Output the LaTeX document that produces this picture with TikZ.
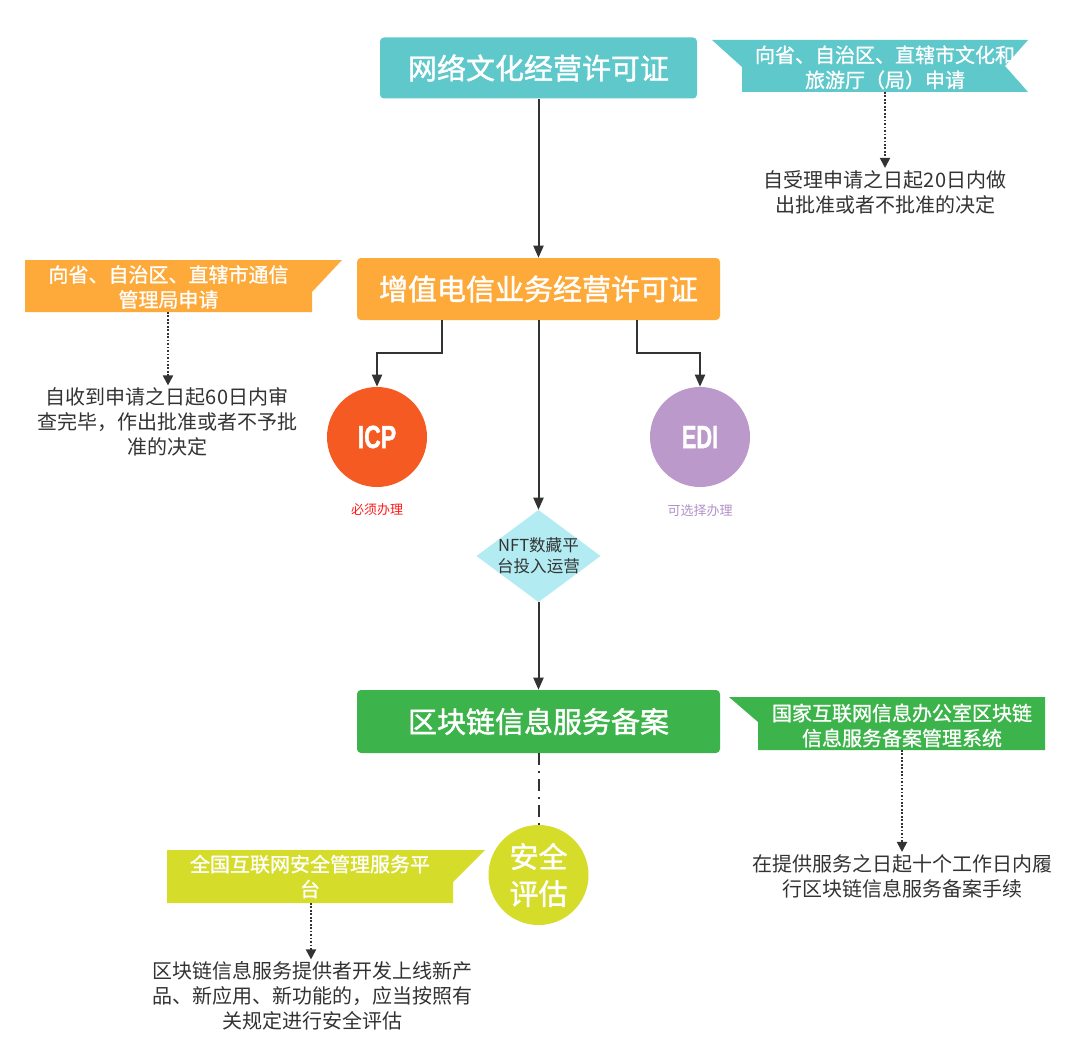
\documentclass[tikz,border=0pt]{standalone}
\usepackage{fontspec}
\usepackage{graphicx}
\setmainfont{Noto Sans CJK SC}
\newfontfamily\cjkmed[FakeBold=1.4]{Noto Sans CJK SC}
\newfontfamily\cjkflag[FakeBold=1.0]{Noto Sans CJK SC}
\newfontfamily\latf[FakeBold=1.5]{Liberation Sans}
\usetikzlibrary{arrows.meta,calc}
\definecolor{cteal}{HTML}{5FC8CB}
\definecolor{corange}{HTML}{FDAA3B}
\definecolor{cicp}{HTML}{F55A22}
\definecolor{cedi}{HTML}{BB99CB}
\definecolor{cdiam}{HTML}{B2EBF2}
\definecolor{cgreen}{HTML}{3DB44B}
\definecolor{clime}{HTML}{D5DC2A}
\definecolor{cdark}{HTML}{333333}
\definecolor{cred}{HTML}{FF1A1A}
\definecolor{clav}{HTML}{B391C8}
\newcommand\fsbox{\cjkmed\fontsize{21.75}{26}\selectfont}
\newcommand\fsflag{\cjkflag\fontsize{15}{18.75}\selectfont}
\newcommand\fsnote{\fontsize{15}{18.75}\selectfont}
\newcommand\fssafe{\cjkmed\fontsize{21.75}{27.75}\selectfont}
\newcommand\fsdiam{\fontsize{12.4}{15.75}\selectfont}
\newcommand\fssmall{\fontsize{9.75}{12}\selectfont}
\begin{document}
\begin{tikzpicture}[x=0.75pt,y=-0.75pt,
  mainbox/.style={rounded corners=3pt,text=white,inner sep=0pt,font=\fsbox},
  arr/.style={draw=cdark,line width=1.5pt,-{Triangle[width=7.5pt,length=9pt]}},
  dotarr/.style={draw=cdark,line width=1.4pt,dash pattern=on 1.3pt off 1.3pt,-{Triangle[width=7.5pt,length=7.5pt]}},
  dashdotline/.style={draw=cdark,line width=1.5pt,dash pattern=on 9pt off 4.5pt on 1.5pt off 4.5pt},
  flagtxt/.style={text=white,align=center,font=\fsflag,inner sep=0pt},
  note/.style={text=cdark,align=center,font=\fsnote,inner sep=1.5pt},
  circ/.style={circle,minimum size=75pt,inner sep=0pt,text=white}]
\fill[white] (0,0) rectangle (1080,1059);
\useasboundingbox (0,0) rectangle (1080,1059);

% main boxes
\node[mainbox,fill=cteal,minimum width=317*0.75pt,minimum height=61*0.75pt] (wl) at (538.5,68) {网络文化经营许可证};
\node[mainbox,fill=corange,minimum width=363*0.75pt,minimum height=62*0.75pt] (zz) at (538.5,289) {增值电信业务经营许可证};
\node[mainbox,fill=cgreen,minimum width=363*0.75pt,minimum height=63*0.75pt] (qk) at (538.5,721.5) {区块链信息服务备案};

% circles
\node[circ,fill=cicp] (icp) at (377,437) {\latf\bfseries\fontsize{24}{24}\selectfont\scalebox{0.72}[1]{ICP}};
\node[circ,fill=cedi] (edi) at (700,437) {\latf\bfseries\fontsize{24}{24}\selectfont\scalebox{0.68}[1]{EDI}};
\node[circ,fill=clime,font=\fssafe,align=center] (aq) at (538.5,875) {安全\\评估};
\node[font=\fssmall,text=cred,inner sep=0pt] (lbicp) at (377,510) {必须办理};
\node[font=\fssmall,text=clav,inner sep=0pt] (lbedi) at (700,511) {可选择办理};

% diamond
\fill[cdiam] (538.5,510) -- (600.5,556) -- (538.5,602) -- (476.5,556) -- cycle;
\node[minimum width=124*0.75pt,minimum height=92*0.75pt,inner sep=0pt,align=center,font=\fsdiam,text=cdark] (nft) at (538.5,556) {NFT数藏平\\台投入运营};

% teal flag
\fill[cteal] (712,40) -- (1028,40) -- (1005,66) -- (1028,92) -- (742,92) -- (742,67) -- cycle;
\node[flagtxt] (tft) at (885,67.5) {向省、自治区、直辖市文化和\\旅游厅（局）申请};
\coordinate (tfb) at (885,92);
\node[note] (tnote) at (885,192) {自受理申请之日起20日内做\\出批准或者不批准的决定};
\draw[dotarr] (tfb) -- (tfb |- tnote.north);

% orange flag
\fill[corange] (25,260) -- (342,260) -- (312,292) -- (312,312) -- (25,312) -- cycle;
\node[flagtxt] (oft) at (168.5,287) {向省、自治区、直辖市通信\\管理局申请};
\coordinate (ofb) at (168,312);
\node[note] (onote) at (167,422) {自收到申请之日起60日内审\\查完毕，作出批准或者不予批\\准的决定};
\draw[dotarr] (ofb) -- (ofb |- onote.north);

% green flag
\fill[cgreen] (729,697) -- (1045,697) -- (1045,750) -- (758,750) -- (758,722) -- cycle;
\node[flagtxt] (gft) at (902,725.5) {国家互联网信息办公室区块链\\信息服务备案管理系统};
\coordinate (gfb) at (902,750);
\node[note] (gnote) at (902,876) {在提供服务之日起十个工作日内履\\行区块链信息服务备案手续};
\draw[dotarr] (gfb) -- (gfb |- gnote.north);

% lime flag
\fill[clime] (167,850) -- (485,850) -- (453,882) -- (453,903) -- (167,903) -- cycle;
\node[flagtxt] (lft) at (310,876.5) {全国互联网安全管理服务平\\台};
\coordinate (lfb) at (311,903);
\node[note] (lnote) at (312,996) {区块链信息服务提供者开发上线新产\\品、新应用、新功能的，应当按照有\\关规定进行安全评估};
\draw[dotarr] (lfb) -- (lfb |- lnote.north);

% connectors
\draw[arr] (wl.south) -- (zz.north);
\draw[arr] ($(zz.south)+(-96.5,0)$) -- ++(0,33) -| (icp.north);
\draw[arr] ($(zz.south)+(98.5,0)$) -- ++(0,33) -| (edi.north);
\draw[arr] (zz.south) -- (nft.north);
\draw[arr] (nft.south) -- (qk.north);
\draw[dashdotline] (qk.south) -- (aq.north);
\end{tikzpicture}
\end{document}
